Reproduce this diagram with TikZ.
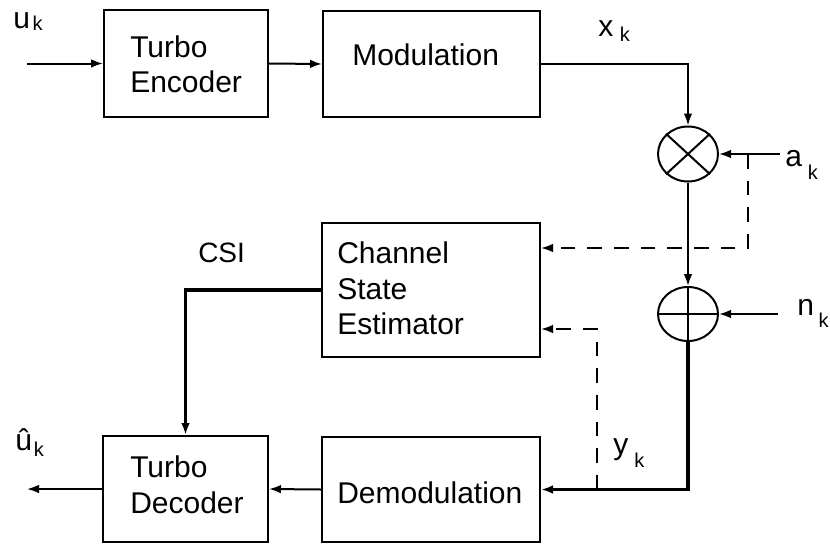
\documentclass[tikz,border=0pt]{standalone}
\usepackage{fontspec}
\setmainfont{Liberation Sans}
\usetikzlibrary{shapes.geometric,arrows.meta,calc}
\newcommand\sbk[2]{\kern#1\raisebox{-#2}{\fontsize{15}{15}\selectfont k}}
\begin{document}
\begin{tikzpicture}[x=0.75pt,y=-0.75pt,
  box/.style={draw, line width=1.5pt, inner sep=0pt},
  sumnode/.style={draw, ellipse, line width=1.5pt, inner sep=0pt, minimum width=45pt},
  txt/.style={inner sep=0pt, anchor=base west, font=\fontsize{22.5}{26}\selectfont},
  conn/.style={line width=1.5pt, -{Latex[length=9pt,width=6.5pt]}},
  thickconn/.style={line width=2.6pt, -{Latex[length=9pt,width=6.5pt]}},
  dashconn/.style={line width=1.5pt, dash pattern=on 11pt off 9pt, -{Latex[length=9pt,width=6.5pt]}}]
\useasboundingbox (0,0) rectangle (830,546);

% blocks
\node[box, minimum width=123pt, minimum height=80.25pt] (enc) at (186,63.5) {};
\node[box, minimum width=162.75pt, minimum height=79.5pt] (mod) at (431.5,64) {};
\node[box, minimum width=163.5pt, minimum height=100.5pt] (cse) at (431,290) {};
\node[box, minimum width=123.75pt, minimum height=79.5pt] (dec) at (185.5,489) {};
\node[box, minimum width=163.5pt, minimum height=78.75pt] (dem) at (431,489.5) {};
\node[sumnode, minimum height=41.25pt] (mul) at (688,154) {};
\node[sumnode, minimum height=40.5pt] (add) at (688,314) {};
\draw[line width=1.5pt] (mul.north east) -- (mul.south west) (mul.north west) -- (mul.south east);
\draw[line width=1.5pt] (add.north) -- (add.south) (add.west) -- (add.east);

% block texts
\node[txt] (tenc1) at (130,57) {Turbo};
\node[txt] (tenc2) at (130,92) {Encoder};
\node[txt] (tmod) at (352,65) {Modulation};
\node[txt] (tcse1) at (337,263) {Channel};
\node[txt] (tcse2) at (337,299) {State};
\node[txt] (tcse3) at (337,334) {Estimator};
\node[txt] (tdec1) at (130,477) {Turbo};
\node[txt] (tdec2) at (130,513) {Decoder};
\node[txt] (tdem) at (337,503) {Demodulation};

% signal labels
\node[txt] (luk) at (13,28) {u\sbk{2pt}{2pt}};
\node[txt] (lxk) at (598,36) {x\sbk{5pt}{4.5pt}};
\node[txt] (lak) at (785,166) {a\sbk{4.5pt}{10pt}};
\node[txt] (lnk) at (797,315) {n\sbk{3.5pt}{9pt}};
\node[txt] (lyk) at (613,454) {y\sbk{4.5pt}{10pt}};
\node[txt] (luh) at (15,450) {û\sbk{1.5pt}{5pt}};
\node[txt, font=\fontsize{21}{24}\selectfont] (lcsi) at (198,262) {CSI};

% connectors
\coordinate (uin) at (27,63.5);
\coordinate (ain) at (780,154);
\coordinate (nin) at (778,314);
\coordinate (uout) at (27,489);
\coordinate (da) at (748,154);
\coordinate (db) at (597,489.5);
\draw[conn] (uin) -- (enc.west);
\draw[conn] (enc.east) -- (mod.west);
\draw[conn] (mod.east) -| (mul.north);
\draw[conn] (ain) -- (mul.east);
\draw[conn] (mul.south) -- (add.north);
\draw[conn] (nin) -- (add.east);
\draw[thickconn] (add.south) |- (dem.east);
\draw[conn] (dem.west) -- (dec.east);
\draw[conn] (dec.west) -- (uout);
\draw[thickconn] (cse.west) -| (dec.north);
\draw[dashconn] (da) |- ($(cse.east)+(0,-42)$);
\draw[dashconn] (db) |- ($(cse.east)+(0,39)$);
\end{tikzpicture}
\end{document}
